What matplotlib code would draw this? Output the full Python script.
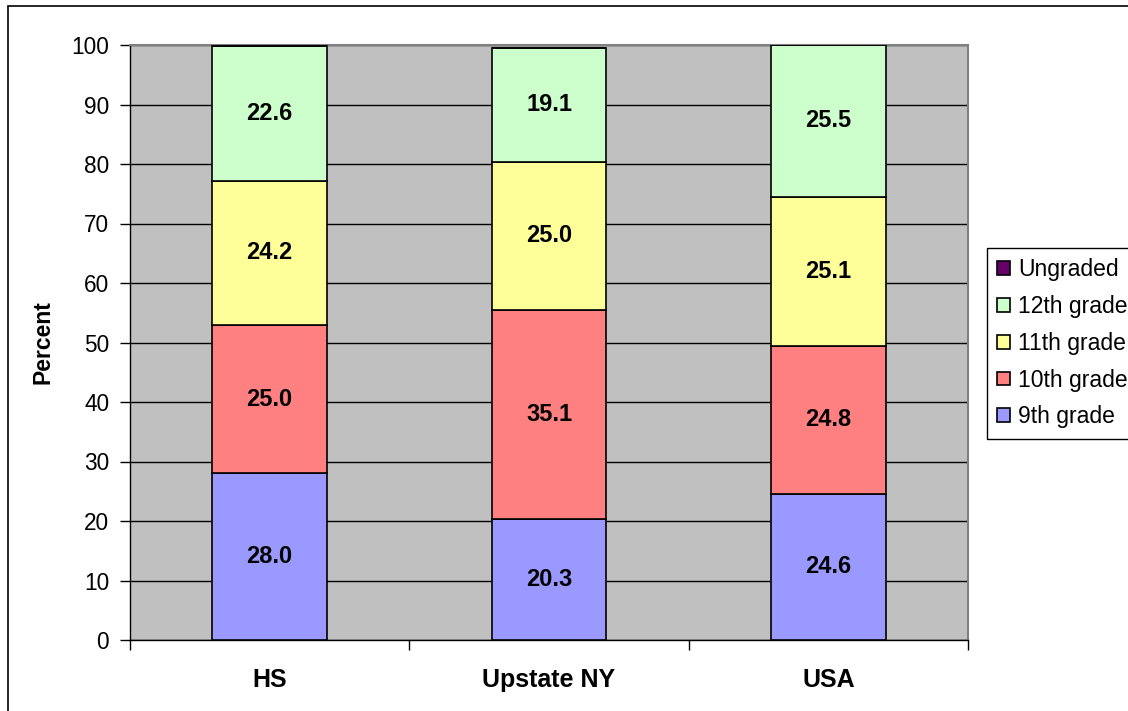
import matplotlib
matplotlib.use("Agg")
import matplotlib.pyplot as plt
import matplotlib.patches as mpatches
import numpy as np

categories = ["HS", "Upstate NY", "USA"]
series_names = ["9th grade", "10th grade", "11th grade", "12th grade", "Ungraded"]
grade9 = [28.0, 20.3, 24.6]
grade10 = [25.0, 35.1, 24.8]
grade11 = [24.2, 25.0, 25.1]
grade12 = [22.6, 19.1, 25.5]
ungraded = [0.0, 0.0, 0.0]
series_values = [grade9, grade10, grade11, grade12, ungraded]
colors = ["#9999FF", "#FF8080", "#FFFF99", "#CCFFCC", "#660066"]
yticks = list(range(0, 101, 10))

plt.rcParams['font.family'] = ['Liberation Sans', 'DejaVu Sans']

fig = plt.figure(figsize=(11.28, 7.11), dpi=100)
ax = fig.add_axes([130/1128, 1 - 640/711, (968-130)/1128, (640-45)/711])
ax.set_facecolor("#C0C0C0")

x = np.arange(len(categories))
bottom = np.zeros(len(categories))
handles = []
for name, vals, col in zip(series_names, series_values, colors):
    vals = np.array(vals)
    ax.bar(x, vals, width=0.41, bottom=bottom, color=col,
           edgecolor="black", linewidth=1.2, zorder=3, label=name)
    for xi, b, v in zip(x, bottom, vals):
        if v > 0:
            ax.text(xi, b + v / 2, f"{v:.1f}", ha="center", va="center",
                    fontsize=17, fontweight="bold", zorder=4)
    bottom = bottom + vals
    handles.append(mpatches.Patch(facecolor=col, edgecolor="black", linewidth=1.2, label=name))

ax.set_xlim(-0.5, 2.5)
ax.set_ylim(0, 100)
ax.set_yticks(yticks)
ax.yaxis.grid(True, color="black", linewidth=1, zorder=1)
ax.set_axisbelow(True)
ax.tick_params(axis="y", direction="out", length=7, width=1, labelsize=16.3, pad=8)
ax.set_xticks(x)
ax.set_xticklabels(categories, fontsize=18, fontweight="bold")
ax.tick_params(axis="x", which="major", length=0, pad=20)
ax.set_xticks([-0.5, 0.5, 1.5, 2.5], minor=True)
ax.tick_params(axis="x", which="minor", direction="out", length=7, width=1)
ax.set_ylabel("Percent", fontsize=16.5, fontweight="bold", labelpad=12)

for s in ["top", "right"]:
    ax.spines[s].set_color("#808080")
    ax.spines[s].set_linewidth(1.5)
for s in ["left", "bottom"]:
    ax.spines[s].set_color("black")
    ax.spines[s].set_linewidth(1)

leg = fig.legend(handles=handles[::-1], loc="upper left",
                 bbox_to_anchor=(987/1128, 1 - 248/711), frameon=True,
                 fontsize=16.5, handlelength=0.55, handleheight=0.55,
                 handletextpad=0.35, labelspacing=0.6, borderpad=0.45,
                 borderaxespad=0, fancybox=False, framealpha=1)
leg.get_frame().set_edgecolor("black")
leg.get_frame().set_linewidth(1)

border = mpatches.Rectangle((8/1128, -0.1), 1.2, 1.1 - 6/711, transform=fig.transFigure,
                            fill=False, edgecolor="black", linewidth=1.2)
fig.patches.append(border)

fig.savefig("out.png", dpi=100)
